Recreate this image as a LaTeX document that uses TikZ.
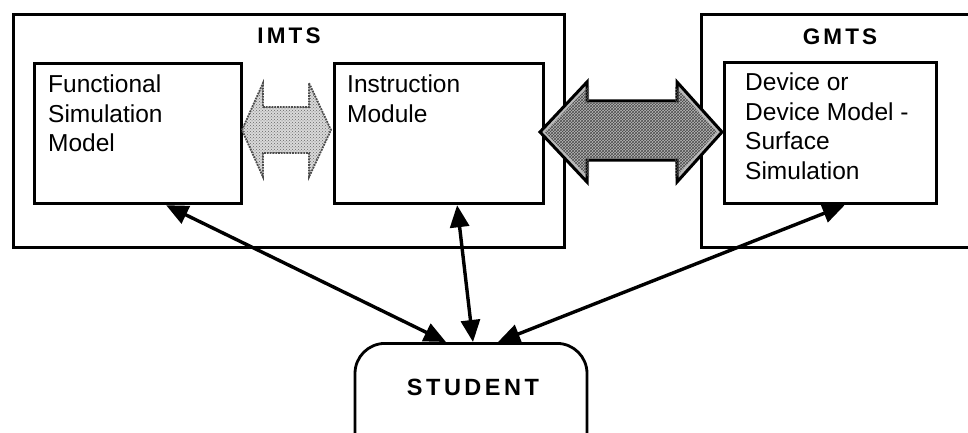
\documentclass[tikz,border=0pt]{standalone}
\usepackage{fontspec}
\setmainfont{Liberation Sans}
\usetikzlibrary{arrows.meta,patterns}
\begin{document}
\begin{tikzpicture}[x=1pt,y=-1pt,
  innerbox/.style={draw=black,line width=3.2pt,inner sep=0pt,anchor=north west},
  outerbox/.style={draw=black,line width=2.8pt,inner sep=0pt,anchor=north west,minimum height=233pt},
  boxtext/.style={anchor=north west,align=left,inner sep=0pt,font=\fontsize{24.5}{29.5}\selectfont},
  headtext/.style={inner sep=0pt,font=\fontsize{22.5}{26}\selectfont\bfseries\addfontfeatures{LetterSpace=14}},
  studentbox/.style={draw=black,line width=2.8pt,rounded corners=30pt,minimum width=232pt,minimum height=130pt,anchor=north,inner sep=0pt},
  link/.style={line width=3.4pt,{Triangle[length=22pt,width=19pt]}-{Triangle[length=22pt,width=19pt]}}
]
\clip (0,0) rectangle (968,433);
\fill[white] (0,0) rectangle (968,433);
% outer systems
\node[outerbox,minimum width=551pt] (imts) at (12,13) {};
\node[outerbox,minimum width=290pt] (gmts) at (700,13) {};
\node[headtext] (imtslabel) at (289,36) {IMTS};
\node[headtext] (gmtslabel) at (840,37) {GMTS};
% inner boxes
\node[innerbox,minimum width=207pt,minimum height=140pt] (fsm) at (33,62) {};
\node[innerbox,minimum width=209pt,minimum height=140pt] (instr) at (333,62) {};
\node[innerbox,minimum width=212pt,minimum height=141pt] (device) at (723,61) {};
\node[boxtext] (fsmtext) at (48,75) {Functional\\Simulation\\Model};
\node[boxtext] (instrtext) at (347,75) {Instruction\\Module};
\node[boxtext] (devicetext) at (745,73) {Device or\\Device Model -\\Surface\\Simulation};
% light double arrow
\fill[gray!30] (242,130) -- (263,83) -- (263,107) -- (309,107) -- (309,83) -- (331,130) -- (309,177) -- (309,153) -- (263,153) -- (263,177) -- cycle;
\path[pattern=crosshatch dots,pattern color=gray!80!black,draw=gray!60!black,densely dotted,line width=1.8pt] (242,130) -- (263,83) -- (263,107) -- (309,107) -- (309,83) -- (331,130) -- (309,177) -- (309,153) -- (263,153) -- (263,177) -- cycle;
% dark double arrow
\path[fill=gray!55,draw=black,line width=3pt,line join=miter] (540,132) -- (587,82) -- (587,101) -- (677,101) -- (677,82) -- (722,132) -- (677,182) -- (677,160) -- (587,160) -- (587,182) -- cycle;
\path[pattern=crosshatch,pattern color=black!70] (545,132) -- (589,86) -- (589,103) -- (675,103) -- (675,86) -- (717,132) -- (675,178) -- (675,158) -- (589,158) -- (589,178) -- cycle;
% student
\node[studentbox] (student) at (471,342) {};
\node[headtext,font=\fontsize{23.5}{27}\selectfont\bfseries\addfontfeatures{LetterSpace=15}] (studentlabel) at (473,387) {STUDENT};
% links
\draw[link] ([xshift=28pt]fsm.south) -- ([xshift=-25pt]student.north);
\draw[link] ([xshift=18pt]instr.south) -- ([xshift=2pt]student.north);
\draw[link] ([xshift=14pt]device.south) -- ([xshift=27pt]student.north);
\end{tikzpicture}
\end{document}
